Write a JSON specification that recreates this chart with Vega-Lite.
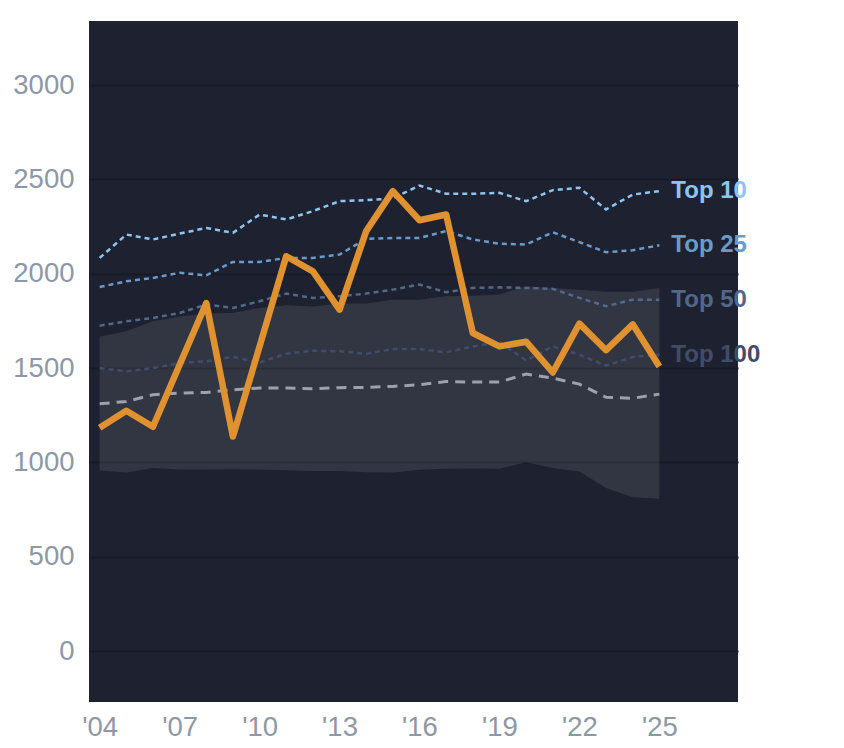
{
  "$schema": "https://vega.github.io/schema/vega-lite/v6.json",
  "autosize": {"type": "none"},
  "padding": {"left": 89, "top": 21, "right": 106, "bottom": 46},
  "width": 649,
  "height": 681,
  "background": "#ffffff",
  "config": {
    "view": {"fill": "#1e2230", "stroke": null},
    "font": "Liberation Sans",
    "axis": {
      "labelFont": "Liberation Sans",
      "labelFontSize": 27.5,
      "labelColor": "#8d97a6",
      "ticks": false,
      "domain": false,
      "title": null
    }
  },
  "datasets": {
    "band": [
      {"year": 2004, "lo": 957, "hi": 1668},
      {"year": 2005, "lo": 946, "hi": 1695},
      {"year": 2006, "lo": 970, "hi": 1748},
      {"year": 2007, "lo": 963, "hi": 1774},
      {"year": 2008, "lo": 962, "hi": 1789},
      {"year": 2009, "lo": 964, "hi": 1792},
      {"year": 2010, "lo": 962, "hi": 1819},
      {"year": 2011, "lo": 958, "hi": 1833},
      {"year": 2012, "lo": 955, "hi": 1827},
      {"year": 2013, "lo": 955, "hi": 1842},
      {"year": 2014, "lo": 948, "hi": 1842},
      {"year": 2015, "lo": 946, "hi": 1863},
      {"year": 2016, "lo": 961, "hi": 1863},
      {"year": 2017, "lo": 966, "hi": 1881},
      {"year": 2018, "lo": 968, "hi": 1884},
      {"year": 2019, "lo": 966, "hi": 1890},
      {"year": 2020, "lo": 1001, "hi": 1934},
      {"year": 2021, "lo": 970, "hi": 1925},
      {"year": 2022, "lo": 952, "hi": 1915},
      {"year": 2023, "lo": 864, "hi": 1905},
      {"year": 2024, "lo": 816, "hi": 1905},
      {"year": 2025, "lo": 807, "hi": 1925}
    ],
    "player": [
      {"year": 2004, "value": 1184},
      {"year": 2005, "value": 1274},
      {"year": 2006, "value": 1189},
      {"year": 2007, "value": 1518},
      {"year": 2008, "value": 1845},
      {"year": 2009, "value": 1137},
      {"year": 2010, "value": 1615},
      {"year": 2011, "value": 2093},
      {"year": 2012, "value": 2013},
      {"year": 2013, "value": 1810},
      {"year": 2014, "value": 2226},
      {"year": 2015, "value": 2438},
      {"year": 2016, "value": 2284},
      {"year": 2017, "value": 2314},
      {"year": 2018, "value": 1686},
      {"year": 2019, "value": 1615},
      {"year": 2020, "value": 1640},
      {"year": 2021, "value": 1477},
      {"year": 2022, "value": 1736},
      {"year": 2023, "value": 1595},
      {"year": 2024, "value": 1732},
      {"year": 2025, "value": 1509}
    ],
    "median": [
      {"year": 2004, "value": 1311},
      {"year": 2005, "value": 1323},
      {"year": 2006, "value": 1359},
      {"year": 2007, "value": 1368},
      {"year": 2008, "value": 1371},
      {"year": 2009, "value": 1385},
      {"year": 2010, "value": 1394},
      {"year": 2011, "value": 1394},
      {"year": 2012, "value": 1391},
      {"year": 2013, "value": 1396},
      {"year": 2014, "value": 1398},
      {"year": 2015, "value": 1403},
      {"year": 2016, "value": 1412},
      {"year": 2017, "value": 1429},
      {"year": 2018, "value": 1426},
      {"year": 2019, "value": 1426},
      {"year": 2020, "value": 1468},
      {"year": 2021, "value": 1447},
      {"year": 2022, "value": 1415},
      {"year": 2023, "value": 1345},
      {"year": 2024, "value": 1340},
      {"year": 2025, "value": 1362}
    ],
    "tiers": [
      {"year": 2004, "tier": "Top 10", "value": 2084},
      {"year": 2005, "tier": "Top 10", "value": 2208},
      {"year": 2006, "tier": "Top 10", "value": 2182},
      {"year": 2007, "tier": "Top 10", "value": 2213},
      {"year": 2008, "tier": "Top 10", "value": 2243},
      {"year": 2009, "tier": "Top 10", "value": 2217},
      {"year": 2010, "tier": "Top 10", "value": 2314},
      {"year": 2011, "tier": "Top 10", "value": 2288},
      {"year": 2012, "tier": "Top 10", "value": 2332},
      {"year": 2013, "tier": "Top 10", "value": 2385},
      {"year": 2014, "tier": "Top 10", "value": 2390},
      {"year": 2015, "tier": "Top 10", "value": 2400},
      {"year": 2016, "tier": "Top 10", "value": 2468},
      {"year": 2017, "tier": "Top 10", "value": 2424},
      {"year": 2018, "tier": "Top 10", "value": 2424},
      {"year": 2019, "tier": "Top 10", "value": 2429},
      {"year": 2020, "tier": "Top 10", "value": 2385},
      {"year": 2021, "tier": "Top 10", "value": 2443},
      {"year": 2022, "tier": "Top 10", "value": 2456},
      {"year": 2023, "tier": "Top 10", "value": 2341},
      {"year": 2024, "tier": "Top 10", "value": 2420},
      {"year": 2025, "tier": "Top 10", "value": 2438},
      {"year": 2004, "tier": "Top 25", "value": 1930},
      {"year": 2005, "tier": "Top 25", "value": 1960},
      {"year": 2006, "tier": "Top 25", "value": 1978},
      {"year": 2007, "tier": "Top 25", "value": 2005},
      {"year": 2008, "tier": "Top 25", "value": 1992},
      {"year": 2009, "tier": "Top 25", "value": 2063},
      {"year": 2010, "tier": "Top 25", "value": 2063},
      {"year": 2011, "tier": "Top 25", "value": 2084},
      {"year": 2012, "tier": "Top 25", "value": 2084},
      {"year": 2013, "tier": "Top 25", "value": 2102},
      {"year": 2014, "tier": "Top 25", "value": 2185},
      {"year": 2015, "tier": "Top 25", "value": 2190},
      {"year": 2016, "tier": "Top 25", "value": 2190},
      {"year": 2017, "tier": "Top 25", "value": 2226},
      {"year": 2018, "tier": "Top 25", "value": 2182},
      {"year": 2019, "tier": "Top 25", "value": 2159},
      {"year": 2020, "tier": "Top 25", "value": 2155},
      {"year": 2021, "tier": "Top 25", "value": 2220},
      {"year": 2022, "tier": "Top 25", "value": 2168},
      {"year": 2023, "tier": "Top 25", "value": 2114},
      {"year": 2024, "tier": "Top 25", "value": 2125},
      {"year": 2025, "tier": "Top 25", "value": 2151},
      {"year": 2004, "tier": "Top 50", "value": 1725},
      {"year": 2005, "tier": "Top 50", "value": 1748},
      {"year": 2006, "tier": "Top 50", "value": 1766},
      {"year": 2007, "tier": "Top 50", "value": 1792},
      {"year": 2008, "tier": "Top 50", "value": 1837},
      {"year": 2009, "tier": "Top 50", "value": 1819},
      {"year": 2010, "tier": "Top 50", "value": 1854},
      {"year": 2011, "tier": "Top 50", "value": 1895},
      {"year": 2012, "tier": "Top 50", "value": 1872},
      {"year": 2013, "tier": "Top 50", "value": 1881},
      {"year": 2014, "tier": "Top 50", "value": 1895},
      {"year": 2015, "tier": "Top 50", "value": 1916},
      {"year": 2016, "tier": "Top 50", "value": 1943},
      {"year": 2017, "tier": "Top 50", "value": 1902},
      {"year": 2018, "tier": "Top 50", "value": 1925},
      {"year": 2019, "tier": "Top 50", "value": 1928},
      {"year": 2020, "tier": "Top 50", "value": 1925},
      {"year": 2021, "tier": "Top 50", "value": 1920},
      {"year": 2022, "tier": "Top 50", "value": 1872},
      {"year": 2023, "tier": "Top 50", "value": 1828},
      {"year": 2024, "tier": "Top 50", "value": 1863},
      {"year": 2025, "tier": "Top 50", "value": 1863},
      {"year": 2004, "tier": "Top 100", "value": 1500},
      {"year": 2005, "tier": "Top 100", "value": 1483},
      {"year": 2006, "tier": "Top 100", "value": 1500},
      {"year": 2007, "tier": "Top 100", "value": 1527},
      {"year": 2008, "tier": "Top 100", "value": 1536},
      {"year": 2009, "tier": "Top 100", "value": 1559},
      {"year": 2010, "tier": "Top 100", "value": 1530},
      {"year": 2011, "tier": "Top 100", "value": 1576},
      {"year": 2012, "tier": "Top 100", "value": 1592},
      {"year": 2013, "tier": "Top 100", "value": 1589},
      {"year": 2014, "tier": "Top 100", "value": 1576},
      {"year": 2015, "tier": "Top 100", "value": 1601},
      {"year": 2016, "tier": "Top 100", "value": 1601},
      {"year": 2017, "tier": "Top 100", "value": 1583},
      {"year": 2018, "tier": "Top 100", "value": 1615},
      {"year": 2019, "tier": "Top 100", "value": 1637},
      {"year": 2020, "tier": "Top 100", "value": 1541},
      {"year": 2021, "tier": "Top 100", "value": 1615},
      {"year": 2022, "tier": "Top 100", "value": 1571},
      {"year": 2023, "tier": "Top 100", "value": 1513},
      {"year": 2024, "tier": "Top 100", "value": 1559},
      {"year": 2025, "tier": "Top 100", "value": 1571}
    ]
  },
  "encoding": {
    "x": {
      "field": "year",
      "type": "quantitative",
      "scale": {"domain": [2003.6, 2027.95], "nice": false, "zero": false},
      "axis": {
        "values": [2004, 2007, 2010, 2013, 2016, 2019, 2022, 2025],
        "labelExpr": "\"'\" + substring(toString(datum.value), 2)",
        "labelPadding": 11,
        "grid": false
      }
    }
  },
  "layer": [
    {
      "data": {"name": "band"},
      "mark": {"type": "area", "color": "#ffffff", "opacity": 0.09},
      "encoding": {
        "y": {
          "field": "hi",
          "type": "quantitative",
          "scale": {"domain": [-270, 3340], "nice": false, "zero": false},
          "axis": {
            "values": [0, 500, 1000, 1500, 2000, 2500, 3000],
            "format": "d",
            "labelPadding": 15,
            "grid": true,
            "gridColor": "#161a25",
            "gridWidth": 2
          }
        },
        "y2": {"field": "lo"}
      }
    },
    {
      "data": {"name": "tiers"},
      "mark": {"type": "line", "strokeWidth": 2.5, "strokeDash": [5, 4]},
      "encoding": {
        "y": {"field": "value", "type": "quantitative"},
        "detail": {"field": "tier"},
        "color": {
          "field": "tier",
          "type": "nominal",
          "scale": {
            "domain": ["Top 10", "Top 25", "Top 50", "Top 100"],
            "range": ["#8ec4ee", "#6a9bc8", "#51688b", "#3f4d6b"]
          },
          "legend": null
        }
      }
    },
    {
      "data": {"name": "median"},
      "mark": {"type": "line", "strokeWidth": 3, "strokeDash": [10, 7], "color": "#9ca2ad"},
      "encoding": {
        "y": {"field": "value", "type": "quantitative"}
      }
    },
    {
      "data": {"name": "player"},
      "mark": {"type": "line", "strokeWidth": 6.5, "strokeJoin": "round", "color": "#df922f"},
      "encoding": {
        "y": {"field": "value", "type": "quantitative"}
      }
    },
    {
      "data": {"name": "tiers"},
      "transform": [{"filter": "datum.year == 2025"}],
      "mark": {
        "type": "text",
        "align": "left",
        "baseline": "middle",
        "dx": 12,
        "fontSize": 24,
        "fontWeight": "bold",
        "font": "Liberation Sans"
      },
      "encoding": {
        "y": {"field": "value", "type": "quantitative"},
        "text": {"field": "tier"},
        "color": {
          "field": "tier",
          "type": "nominal",
          "scale": {
            "domain": ["Top 10", "Top 25", "Top 50", "Top 100"],
            "range": ["#a5d5fa", "#6d9fcd", "#53698a", "#3d4a66"]
          },
          "legend": null
        }
      }
    }
  ]
}
